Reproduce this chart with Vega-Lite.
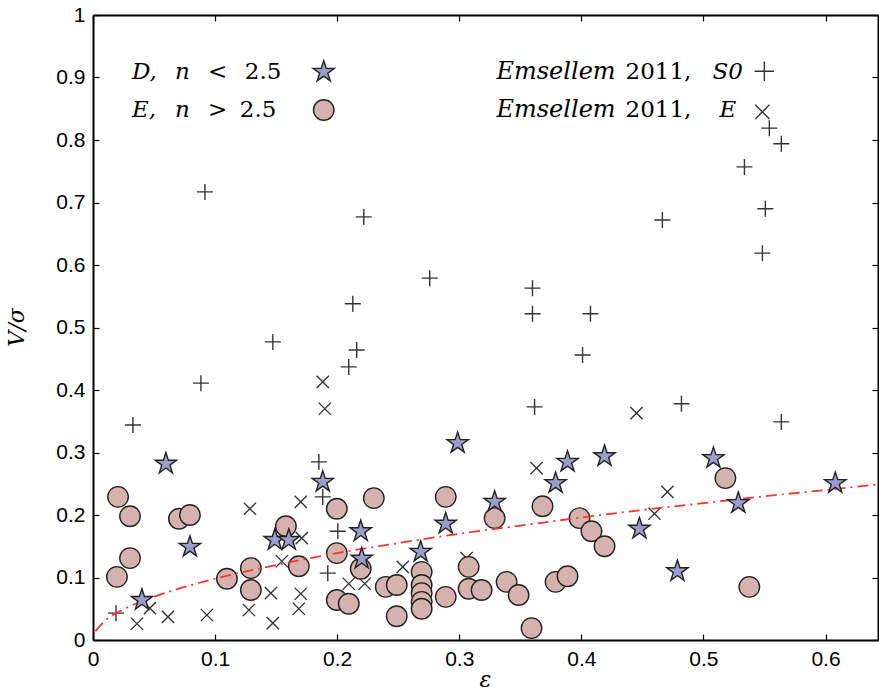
{
  "$schema": "https://vega.github.io/schema/vega-lite/v6.json",
  "autosize": {"type": "none"},
  "width": 785,
  "height": 625,
  "padding": {"left": 93, "top": 15, "right": 1, "bottom": 53},
  "background": "white",
  "datasets": {
    "s0": [
      {"eps": 0.0917, "vs": 0.717}, {"eps": 0.2218, "vs": 0.677}, {"eps": 0.2758, "vs": 0.579},
      {"eps": 0.360, "vs": 0.563}, {"eps": 0.360, "vs": 0.522}, {"eps": 0.4075, "vs": 0.522},
      {"eps": 0.401, "vs": 0.456}, {"eps": 0.3617, "vs": 0.373}, {"eps": 0.4664, "vs": 0.672},
      {"eps": 0.5336, "vs": 0.757}, {"eps": 0.554, "vs": 0.819}, {"eps": 0.5638, "vs": 0.794},
      {"eps": 0.5507, "vs": 0.690}, {"eps": 0.5483, "vs": 0.619}, {"eps": 0.482, "vs": 0.378},
      {"eps": 0.5638, "vs": 0.349}, {"eps": 0.1473, "vs": 0.477}, {"eps": 0.0884, "vs": 0.411},
      {"eps": 0.0327, "vs": 0.344}, {"eps": 0.2128, "vs": 0.538}, {"eps": 0.216, "vs": 0.464},
      {"eps": 0.2095, "vs": 0.437}, {"eps": 0.185, "vs": 0.285}, {"eps": 0.2005, "vs": 0.174},
      {"eps": 0.1923, "vs": 0.107}, {"eps": 0.0188, "vs": 0.043}, {"eps": 0.1882, "vs": 0.229}
    ],
    "ell": [
      {"eps": 0.036, "vs": 0.026}, {"eps": 0.0466, "vs": 0.051}, {"eps": 0.0614, "vs": 0.037},
      {"eps": 0.0933, "vs": 0.040}, {"eps": 0.1285, "vs": 0.210}, {"eps": 0.1277, "vs": 0.048},
      {"eps": 0.1457, "vs": 0.075}, {"eps": 0.1473, "vs": 0.027}, {"eps": 0.1702, "vs": 0.221},
      {"eps": 0.1702, "vs": 0.074}, {"eps": 0.1686, "vs": 0.050}, {"eps": 0.171, "vs": 0.163},
      {"eps": 0.1547, "vs": 0.126}, {"eps": 0.1882, "vs": 0.413}, {"eps": 0.1899, "vs": 0.370},
      {"eps": 0.2095, "vs": 0.090}, {"eps": 0.2226, "vs": 0.090}, {"eps": 0.2537, "vs": 0.117},
      {"eps": 0.306, "vs": 0.131}, {"eps": 0.3633, "vs": 0.275}, {"eps": 0.4452, "vs": 0.363},
      {"eps": 0.4705, "vs": 0.237}, {"eps": 0.4599, "vs": 0.202}
    ],
    "disk": [
      {"eps": 0.0401, "vs": 0.064}, {"eps": 0.0597, "vs": 0.282}, {"eps": 0.0794, "vs": 0.149},
      {"eps": 0.1489, "vs": 0.160}, {"eps": 0.1604, "vs": 0.160}, {"eps": 0.1882, "vs": 0.253},
      {"eps": 0.2193, "vs": 0.174}, {"eps": 0.2201, "vs": 0.130}, {"eps": 0.2684, "vs": 0.141},
      {"eps": 0.2889, "vs": 0.186}, {"eps": 0.2987, "vs": 0.315}, {"eps": 0.329, "vs": 0.221},
      {"eps": 0.3789, "vs": 0.251}, {"eps": 0.3887, "vs": 0.285}, {"eps": 0.419, "vs": 0.294},
      {"eps": 0.4476, "vs": 0.178}, {"eps": 0.4787, "vs": 0.110}, {"eps": 0.5082, "vs": 0.291},
      {"eps": 0.5286, "vs": 0.219}, {"eps": 0.6080, "vs": 0.251}
    ],
    "ellip": [
      {"eps": 0.0205, "vs": 0.229}, {"eps": 0.0303, "vs": 0.198}, {"eps": 0.0303, "vs": 0.131},
      {"eps": 0.0196, "vs": 0.101}, {"eps": 0.0704, "vs": 0.194}, {"eps": 0.0794, "vs": 0.200},
      {"eps": 0.1097, "vs": 0.098}, {"eps": 0.1293, "vs": 0.115}, {"eps": 0.1293, "vs": 0.080},
      {"eps": 0.158, "vs": 0.182}, {"eps": 0.1686, "vs": 0.118}, {"eps": 0.1997, "vs": 0.210},
      {"eps": 0.1997, "vs": 0.139}, {"eps": 0.1997, "vs": 0.064}, {"eps": 0.2095, "vs": 0.058},
      {"eps": 0.230, "vs": 0.227}, {"eps": 0.2193, "vs": 0.114}, {"eps": 0.2398, "vs": 0.085},
      {"eps": 0.2488, "vs": 0.088}, {"eps": 0.2488, "vs": 0.038}, {"eps": 0.2692, "vs": 0.109},
      {"eps": 0.2692, "vs": 0.088}, {"eps": 0.2692, "vs": 0.075}, {"eps": 0.2692, "vs": 0.061},
      {"eps": 0.2692, "vs": 0.050}, {"eps": 0.2889, "vs": 0.229}, {"eps": 0.2889, "vs": 0.069},
      {"eps": 0.3077, "vs": 0.117}, {"eps": 0.3077, "vs": 0.082}, {"eps": 0.3183, "vs": 0.080},
      {"eps": 0.329, "vs": 0.195}, {"eps": 0.3388, "vs": 0.093}, {"eps": 0.3486, "vs": 0.072},
      {"eps": 0.3592, "vs": 0.019}, {"eps": 0.3682, "vs": 0.214}, {"eps": 0.3789, "vs": 0.093},
      {"eps": 0.3887, "vs": 0.102}, {"eps": 0.3985, "vs": 0.195}, {"eps": 0.4083, "vs": 0.174},
      {"eps": 0.419, "vs": 0.150}, {"eps": 0.518, "vs": 0.259}, {"eps": 0.5376, "vs": 0.085}
    ],
    "fit": [
      {"eps": 0.002, "vs": 0.014}, {"eps": 0.01, "vs": 0.031}, {"eps": 0.025, "vs": 0.049},
      {"eps": 0.05, "vs": 0.069}, {"eps": 0.1, "vs": 0.098}, {"eps": 0.15, "vs": 0.120},
      {"eps": 0.2, "vs": 0.139}, {"eps": 0.25, "vs": 0.155}, {"eps": 0.3, "vs": 0.170},
      {"eps": 0.35, "vs": 0.183}, {"eps": 0.4, "vs": 0.196}, {"eps": 0.45, "vs": 0.208},
      {"eps": 0.5, "vs": 0.219}, {"eps": 0.55, "vs": 0.230}, {"eps": 0.6, "vs": 0.240},
      {"eps": 0.643, "vs": 0.249}
    ],
    "keys": [
      {"eps": 0.189, "vs": 0.909, "kind": "disk"},
      {"eps": 0.189, "vs": 0.848, "kind": "ellip"},
      {"eps": 0.5499, "vs": 0.910, "kind": "s0"},
      {"eps": 0.5483, "vs": 0.845, "kind": "ell"}
    ],
    "keyText": [
      {"eps": 0.0319, "vs": 0.909, "t": "D,", "it": true, "fs": 23},
      {"eps": 0.0671, "vs": 0.909, "t": "n", "it": true, "fs": 23},
      {"eps": 0.0941, "vs": 0.909, "t": "<", "it": false, "fs": 23},
      {"eps": 0.1244, "vs": 0.909, "t": "2.5", "it": false, "fs": 23},
      {"eps": 0.0319, "vs": 0.848, "t": "E,", "it": true, "fs": 23},
      {"eps": 0.0671, "vs": 0.848, "t": "n", "it": true, "fs": 23},
      {"eps": 0.0941, "vs": 0.848, "t": ">", "it": false, "fs": 23},
      {"eps": 0.1203, "vs": 0.848, "t": "2.5", "it": false, "fs": 23},
      {"eps": 0.3305, "vs": 0.909, "t": "Emsellem", "it": true, "fs": 24},
      {"eps": 0.4362, "vs": 0.909, "t": "2011,", "it": false, "fs": 23},
      {"eps": 0.5074, "vs": 0.909, "t": "S0", "it": true, "fs": 23},
      {"eps": 0.3305, "vs": 0.848, "t": "Emsellem", "it": true, "fs": 24},
      {"eps": 0.4362, "vs": 0.848, "t": "2011,", "it": false, "fs": 23},
      {"eps": 0.5131, "vs": 0.848, "t": "E", "it": true, "fs": 23}
    ]
  },
  "resolve": {"axis": {"x": "independent", "y": "independent"}},
  "layer": [
    {
      "data": {"name": "s0"},
      "mark": {"type": "point", "shape": "M-1,0H1M0,-1V1", "size": 256, "filled": false, "stroke": "#333333", "strokeWidth": 1.4, "opacity": 1},
      "encoding": {
        "x": {"field": "eps", "type": "quantitative", "scale": {"domain": [0, 0.643], "nice": false, "zero": false},
              "axis": {"orient": "bottom", "values": [0, 0.1, 0.2, 0.3, 0.4, 0.5, 0.6], "format": ".1~f",
                       "title": "ε", "titleFont": "DejaVu Serif", "titleFontStyle": "italic", "titleFontWeight": "normal",
                       "titleFontSize": 22, "titleBaseline": "alphabetic", "titleY": 46, "titleX": 392}},
        "y": {"field": "vs", "type": "quantitative", "scale": {"domain": [0, 1], "nice": false, "zero": false},
              "axis": {"orient": "left", "values": [0, 0.1, 0.2, 0.3, 0.4, 0.5, 0.6, 0.7, 0.8, 0.9, 1], "format": ".1~f",
                       "title": "V/σ", "titleFont": "DejaVu Serif", "titleFontStyle": "italic", "titleFontWeight": "normal",
                       "titleFontSize": 22, "titleAngle": -90, "titleBaseline": "middle", "titleAlign": "center", "titleX": -77, "titleY": 312}}
      }
    },
    {
      "data": {"name": "s0"},
      "mark": {"type": "point", "size": 0, "opacity": 0},
      "encoding": {
        "x": {"field": "eps", "type": "quantitative",
              "axis": {"orient": "top", "values": [0, 0.1, 0.2, 0.3, 0.4, 0.5, 0.6], "labels": false, "title": null}},
        "y": {"field": "vs", "type": "quantitative",
              "axis": {"orient": "right", "values": [0, 0.1, 0.2, 0.3, 0.4, 0.5, 0.6, 0.7, 0.8, 0.9, 1], "labels": false, "title": null}}
      }
    },
    {
      "data": {"name": "ell"},
      "mark": {"type": "point", "shape": "M-1,-1L1,1M-1,1L1,-1", "size": 150, "filled": false, "stroke": "#333333", "strokeWidth": 1.4, "opacity": 1},
      "encoding": {
        "x": {"field": "eps", "type": "quantitative", "axis": null},
        "y": {"field": "vs", "type": "quantitative", "axis": null}
      }
    },
    {
      "data": {"name": "ellip"},
      "mark": {"type": "point", "shape": "circle", "size": 420, "filled": true, "fill": "#d6b2ae", "stroke": "#222222", "strokeWidth": 1.4, "opacity": 1},
      "encoding": {
        "x": {"field": "eps", "type": "quantitative", "axis": null},
        "y": {"field": "vs", "type": "quantitative", "axis": null}
      }
    },
    {
      "data": {"name": "fit"},
      "mark": {"type": "line", "color": "#ff3030", "strokeWidth": 1.8, "strokeDash": [11, 5, 2, 5], "interpolate": "monotone"},
      "encoding": {
        "x": {"field": "eps", "type": "quantitative", "axis": null},
        "y": {"field": "vs", "type": "quantitative", "axis": null}
      }
    },
    {
      "data": {"name": "disk"},
      "mark": {"type": "point", "shape": "M0,-1L0.2245,-0.309L0.951,-0.309L0.363,0.118L0.588,0.809L0,0.382L-0.588,0.809L-0.363,0.118L-0.951,-0.309L-0.2245,-0.309Z", "size": 500, "filled": true, "fill": "#9d9dcc", "stroke": "#222222", "strokeWidth": 1.4, "opacity": 1},
      "encoding": {
        "x": {"field": "eps", "type": "quantitative", "axis": null},
        "y": {"field": "vs", "type": "quantitative", "axis": null}
      }
    },
    {
      "data": {"name": "keys"},
      "transform": [{"filter": "datum.kind === 'disk'"}],
      "mark": {"type": "point", "shape": "M0,-1L0.2245,-0.309L0.951,-0.309L0.363,0.118L0.588,0.809L0,0.382L-0.588,0.809L-0.363,0.118L-0.951,-0.309L-0.2245,-0.309Z", "size": 500, "filled": true, "fill": "#9d9dcc", "stroke": "#222222", "strokeWidth": 1.4, "opacity": 1},
      "encoding": {
        "x": {"field": "eps", "type": "quantitative", "axis": null},
        "y": {"field": "vs", "type": "quantitative", "axis": null}
      }
    },
    {
      "data": {"name": "keys"},
      "transform": [{"filter": "datum.kind === 'ellip'"}],
      "mark": {"type": "point", "shape": "circle", "size": 420, "filled": true, "fill": "#d6b2ae", "stroke": "#222222", "strokeWidth": 1.4, "opacity": 1},
      "encoding": {
        "x": {"field": "eps", "type": "quantitative", "axis": null},
        "y": {"field": "vs", "type": "quantitative", "axis": null}
      }
    },
    {
      "data": {"name": "keys"},
      "transform": [{"filter": "datum.kind === 's0'"}],
      "mark": {"type": "point", "shape": "M-1,0H1M0,-1V1", "size": 380, "filled": false, "stroke": "#333333", "strokeWidth": 1.4, "opacity": 1},
      "encoding": {
        "x": {"field": "eps", "type": "quantitative", "axis": null},
        "y": {"field": "vs", "type": "quantitative", "axis": null}
      }
    },
    {
      "data": {"name": "keys"},
      "transform": [{"filter": "datum.kind === 'ell'"}],
      "mark": {"type": "point", "shape": "M-1,-1L1,1M-1,1L1,-1", "size": 200, "filled": false, "stroke": "#333333", "strokeWidth": 1.4, "opacity": 1},
      "encoding": {
        "x": {"field": "eps", "type": "quantitative", "axis": null},
        "y": {"field": "vs", "type": "quantitative", "axis": null}
      }
    },
    {
      "data": {"name": "keyText"},
      "transform": [{"filter": "datum.it"}],
      "mark": {"type": "text", "font": "DejaVu Serif", "fontStyle": "italic", "align": "left", "baseline": "middle", "color": "black"},
      "encoding": {
        "x": {"field": "eps", "type": "quantitative", "axis": null},
        "y": {"field": "vs", "type": "quantitative", "axis": null},
        "size": {"field": "fs", "type": "quantitative", "scale": null, "legend": null},
        "text": {"field": "t"}
      }
    },
    {
      "data": {"name": "keyText"},
      "transform": [{"filter": "!datum.it"}],
      "mark": {"type": "text", "font": "DejaVu Serif", "align": "left", "baseline": "middle", "color": "black"},
      "encoding": {
        "x": {"field": "eps", "type": "quantitative", "axis": null},
        "y": {"field": "vs", "type": "quantitative", "axis": null},
        "size": {"field": "fs", "type": "quantitative", "scale": null, "legend": null},
        "text": {"field": "t"}
      }
    }
  ],
  "config": {
    "view": {"stroke": null},
    "axis": {
      "grid": false,
      "domainColor": "black",
      "domainWidth": 2,
      "tickColor": "black",
      "tickWidth": 1.2,
      "tickSize": -6,
      "labelPadding": 14,
      "labelFont": "Liberation Sans",
      "labelFontSize": 21,
      "labelColor": "black",
      "labelFlush": false,
      "labelOverlap": false,
      "titleColor": "black"
    }
  }
}
